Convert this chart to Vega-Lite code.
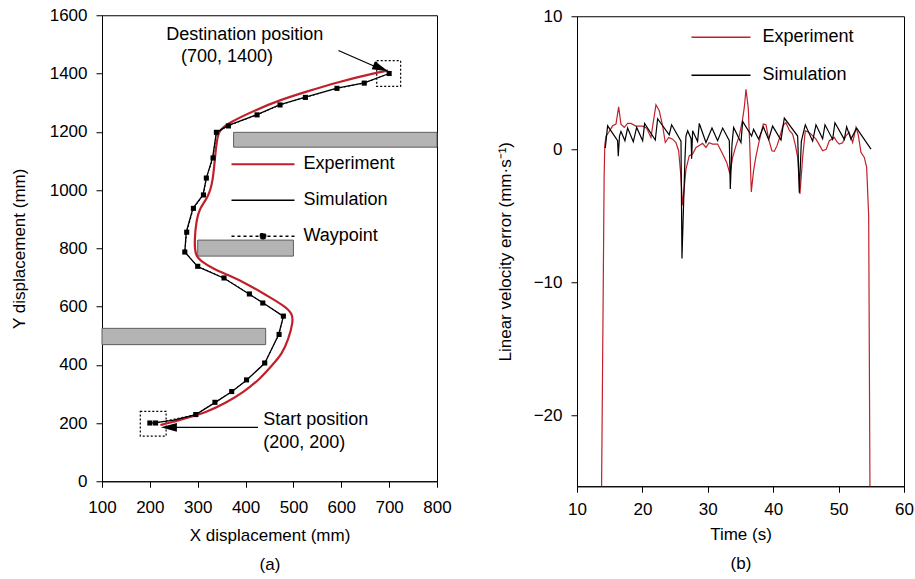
{
  "$schema": "https://vega.github.io/schema/vega-lite/v6.json",
  "background": "white",
  "padding": {"left": 9, "top": 5, "right": 0, "bottom": 0},
  "config": {
    "font": "Liberation Sans",
    "view": {"stroke": "black", "strokeWidth": 1},
    "axis": {"grid": false, "domainColor": "black", "tickColor": "black", "tickSize": 6, "labelFontSize": 17, "labelColor": "black", "titleFontSize": 17, "titleFontWeight": "normal", "titleColor": "black", "labelPadding": 6, "titlePadding": 10, "labelFlush": false, "format": "d"},
    "concat": {"spacing": 43}
  },
  "datasets": {
    "obs": [
      {"x1": 375, "x2": 800, "y1": 1147, "y2": 1198},
      {"x1": 300, "x2": 500, "y1": 773, "y2": 828},
      {"x1": 100, "x2": 442, "y1": 469, "y2": 525}
    ],
    "box": [
      {"x1": 180, "x2": 234, "y1": 155, "y2": 240},
      {"x1": 674, "x2": 724, "y1": 1356, "y2": 1444}
    ],
    "wp": [
      {"x": 200, "y": 200}, {"x": 212, "y": 200}, {"x": 296, "y": 229}, {"x": 336, "y": 271}, {"x": 371, "y": 308},
      {"x": 402, "y": 348}, {"x": 440, "y": 406}, {"x": 470, "y": 504}, {"x": 479, "y": 567}, {"x": 436, "y": 612},
      {"x": 408, "y": 643}, {"x": 355, "y": 698}, {"x": 300, "y": 738}, {"x": 273, "y": 787}, {"x": 277, "y": 855},
      {"x": 291, "y": 937}, {"x": 312, "y": 983}, {"x": 318, "y": 1041}, {"x": 332, "y": 1110}, {"x": 339, "y": 1198},
      {"x": 364, "y": 1220}, {"x": 424, "y": 1258}, {"x": 472, "y": 1292}, {"x": 525, "y": 1318}, {"x": 591, "y": 1349},
      {"x": 648, "y": 1367}, {"x": 700, "y": 1400}
    ],
    "sim": [
      {"x": 200, "y": 200}, {"x": 213, "y": 201}, {"x": 250, "y": 210}, {"x": 296, "y": 229}, {"x": 336, "y": 270},
      {"x": 371, "y": 307}, {"x": 402, "y": 347}, {"x": 440, "y": 405}, {"x": 469, "y": 503}, {"x": 479, "y": 566},
      {"x": 437, "y": 612}, {"x": 408, "y": 642}, {"x": 355, "y": 697}, {"x": 300, "y": 737}, {"x": 273, "y": 787},
      {"x": 276, "y": 855}, {"x": 290, "y": 937}, {"x": 311, "y": 983}, {"x": 318, "y": 1041}, {"x": 331, "y": 1110},
      {"x": 339, "y": 1198}, {"x": 364, "y": 1222}, {"x": 424, "y": 1259}, {"x": 472, "y": 1293}, {"x": 525, "y": 1319},
      {"x": 591, "y": 1350}, {"x": 648, "y": 1368}, {"x": 700, "y": 1400}
    ],
    "exp": [
      {"x": 222, "y": 193}, {"x": 245, "y": 202}, {"x": 270, "y": 214}, {"x": 319, "y": 237}, {"x": 361, "y": 271},
      {"x": 396, "y": 306}, {"x": 430, "y": 351}, {"x": 458, "y": 403}, {"x": 476, "y": 437}, {"x": 490, "y": 489},
      {"x": 499, "y": 546}, {"x": 498, "y": 575}, {"x": 483, "y": 600}, {"x": 444, "y": 638}, {"x": 403, "y": 678},
      {"x": 361, "y": 710}, {"x": 333, "y": 729}, {"x": 305, "y": 758}, {"x": 295, "y": 776}, {"x": 293, "y": 826},
      {"x": 297, "y": 895}, {"x": 305, "y": 941}, {"x": 322, "y": 975}, {"x": 332, "y": 1032}, {"x": 336, "y": 1112},
      {"x": 340, "y": 1170}, {"x": 344, "y": 1202}, {"x": 361, "y": 1228}, {"x": 424, "y": 1277}, {"x": 472, "y": 1309},
      {"x": 528, "y": 1338}, {"x": 591, "y": 1370}, {"x": 674, "y": 1403}, {"x": 698, "y": 1410}
    ],
    "err": [
      {"s": "Experiment", "t": 13.75, "v": -26}, {"s": "Experiment", "t": 14.15, "v": -2}, {"s": "Experiment", "t": 14.25, "v": 0.3},
      {"s": "Experiment", "t": 14.43, "v": 1.0}, {"s": "Experiment", "t": 14.84, "v": 1.27}, {"s": "Experiment", "t": 15.45, "v": 1.77},
      {"s": "Experiment", "t": 15.96, "v": 1.9}, {"s": "Experiment", "t": 16.37, "v": 3.2}, {"s": "Experiment", "t": 16.72, "v": 1.9},
      {"s": "Experiment", "t": 17.23, "v": 1.65}, {"s": "Experiment", "t": 17.74, "v": 1.95}, {"s": "Experiment", "t": 18.25, "v": 1.95},
      {"s": "Experiment", "t": 19.02, "v": 1.75}, {"s": "Experiment", "t": 20.04, "v": 1.75}, {"s": "Experiment", "t": 20.65, "v": 1.6},
      {"s": "Experiment", "t": 21.31, "v": 0.9}, {"s": "Experiment", "t": 22.07, "v": 3.35}, {"s": "Experiment", "t": 22.58, "v": 2.9},
      {"s": "Experiment", "t": 23.09, "v": 1.77}, {"s": "Experiment", "t": 23.5, "v": 0.52}, {"s": "Experiment", "t": 24.01, "v": 0.9},
      {"s": "Experiment", "t": 24.62, "v": 0.77}, {"s": "Experiment", "t": 25.13, "v": 0.52}, {"s": "Experiment", "t": 25.54, "v": -0.1},
      {"s": "Experiment", "t": 25.85, "v": -1.8}, {"s": "Experiment", "t": 26.15, "v": -4.2}, {"s": "Experiment", "t": 26.66, "v": -1.5},
      {"s": "Experiment", "t": 27.17, "v": -0.47}, {"s": "Experiment", "t": 27.68, "v": -0.35}, {"s": "Experiment", "t": 28.2, "v": 0.15},
      {"s": "Experiment", "t": 28.7, "v": 0.3}, {"s": "Experiment", "t": 29.2, "v": 0.45}, {"s": "Experiment", "t": 29.72, "v": 0.15},
      {"s": "Experiment", "t": 30.2, "v": 0.5}, {"s": "Experiment", "t": 30.74, "v": 0.4}, {"s": "Experiment", "t": 31.5, "v": 0.4},
      {"s": "Experiment", "t": 32.27, "v": -0.35}, {"s": "Experiment", "t": 32.9, "v": -1.0}, {"s": "Experiment", "t": 33.39, "v": -1.85},
      {"s": "Experiment", "t": 33.8, "v": -0.6}, {"s": "Experiment", "t": 34.31, "v": 0.28}, {"s": "Experiment", "t": 34.82, "v": 1.03},
      {"s": "Experiment", "t": 35.3, "v": 2.2}, {"s": "Experiment", "t": 35.58, "v": 3.15}, {"s": "Experiment", "t": 35.84, "v": 4.52},
      {"s": "Experiment", "t": 36.19, "v": 3.1}, {"s": "Experiment", "t": 36.45, "v": -0.1}, {"s": "Experiment", "t": 36.65, "v": -3.2},
      {"s": "Experiment", "t": 37.0, "v": -1.6}, {"s": "Experiment", "t": 37.37, "v": -0.5}, {"s": "Experiment", "t": 37.87, "v": 0.65},
      {"s": "Experiment", "t": 38.49, "v": 1.9}, {"s": "Experiment", "t": 38.9, "v": 1.85}, {"s": "Experiment", "t": 39.3, "v": 0.77},
      {"s": "Experiment", "t": 39.8, "v": -0.1}, {"s": "Experiment", "t": 40.17, "v": -0.15}, {"s": "Experiment", "t": 40.6, "v": 0.3},
      {"s": "Experiment", "t": 40.93, "v": 0.8}, {"s": "Experiment", "t": 41.5, "v": 1.8}, {"s": "Experiment", "t": 41.95, "v": 2.0},
      {"s": "Experiment", "t": 42.5, "v": 1.4}, {"s": "Experiment", "t": 42.97, "v": 1.15}, {"s": "Experiment", "t": 43.4, "v": 0.3},
      {"s": "Experiment", "t": 43.74, "v": -0.6}, {"s": "Experiment", "t": 44.09, "v": -3.35}, {"s": "Experiment", "t": 44.5, "v": -0.6},
      {"s": "Experiment", "t": 44.91, "v": 1.4}, {"s": "Experiment", "t": 45.4, "v": 1.3}, {"s": "Experiment", "t": 45.78, "v": 1.15},
      {"s": "Experiment", "t": 46.54, "v": 0.77}, {"s": "Experiment", "t": 47.1, "v": 0.3}, {"s": "Experiment", "t": 47.56, "v": -0.1},
      {"s": "Experiment", "t": 48.1, "v": 0.0}, {"s": "Experiment", "t": 48.58, "v": 0.65}, {"s": "Experiment", "t": 49.34, "v": 0.9},
      {"s": "Experiment", "t": 49.7, "v": 0.6}, {"s": "Experiment", "t": 50.1, "v": 0.4}, {"s": "Experiment", "t": 50.6, "v": 0.5},
      {"s": "Experiment", "t": 51.13, "v": 1.02}, {"s": "Experiment", "t": 51.6, "v": 1.3}, {"s": "Experiment", "t": 52.15, "v": 0.52},
      {"s": "Experiment", "t": 52.66, "v": 1.65}, {"s": "Experiment", "t": 53.0, "v": 1.1}, {"s": "Experiment", "t": 53.42, "v": -0.22},
      {"s": "Experiment", "t": 53.93, "v": -0.6}, {"s": "Experiment", "t": 54.29, "v": -1.35}, {"s": "Experiment", "t": 54.6, "v": -5},
      {"s": "Experiment", "t": 54.8, "v": -26},
      {"s": "Simulation", "t": 14.33, "v": 0.1}, {"s": "Simulation", "t": 14.68, "v": 1.77}, {"s": "Simulation", "t": 16.21, "v": 0.65},
      {"s": "Simulation", "t": 16.31, "v": -0.52}, {"s": "Simulation", "t": 16.5, "v": 1.0}, {"s": "Simulation", "t": 16.72, "v": 1.35},
      {"s": "Simulation", "t": 17.33, "v": 0.65}, {"s": "Simulation", "t": 17.74, "v": 1.6}, {"s": "Simulation", "t": 18.61, "v": 0.57},
      {"s": "Simulation", "t": 19.12, "v": 1.65}, {"s": "Simulation", "t": 20.04, "v": 0.65}, {"s": "Simulation", "t": 20.34, "v": 1.95},
      {"s": "Simulation", "t": 21.97, "v": 0.7}, {"s": "Simulation", "t": 22.33, "v": 2.3}, {"s": "Simulation", "t": 24.1, "v": 1.1},
      {"s": "Simulation", "t": 24.47, "v": 1.85}, {"s": "Simulation", "t": 25.9, "v": 0.62}, {"s": "Simulation", "t": 26.05, "v": -8.2},
      {"s": "Simulation", "t": 26.5, "v": -0.8}, {"s": "Simulation", "t": 26.66, "v": 1.0}, {"s": "Simulation", "t": 26.92, "v": 1.4},
      {"s": "Simulation", "t": 27.45, "v": 0.8}, {"s": "Simulation", "t": 27.53, "v": -0.7}, {"s": "Simulation", "t": 27.68, "v": 1.4},
      {"s": "Simulation", "t": 28.44, "v": 0.6}, {"s": "Simulation", "t": 28.7, "v": 1.95}, {"s": "Simulation", "t": 29.72, "v": 0.52},
      {"s": "Simulation", "t": 30.64, "v": 1.6}, {"s": "Simulation", "t": 31.5, "v": 0.65}, {"s": "Simulation", "t": 32.27, "v": 1.6},
      {"s": "Simulation", "t": 33.29, "v": 0.65}, {"s": "Simulation", "t": 33.44, "v": -2.97}, {"s": "Simulation", "t": 33.7, "v": 0.4},
      {"s": "Simulation", "t": 33.95, "v": 1.65}, {"s": "Simulation", "t": 35.07, "v": 0.52}, {"s": "Simulation", "t": 35.33, "v": 2.1},
      {"s": "Simulation", "t": 36.7, "v": 1.0}, {"s": "Simulation", "t": 37.0, "v": 1.5}, {"s": "Simulation", "t": 37.77, "v": 0.77},
      {"s": "Simulation", "t": 38.49, "v": 1.7}, {"s": "Simulation", "t": 39.3, "v": 0.75}, {"s": "Simulation", "t": 39.91, "v": 1.75},
      {"s": "Simulation", "t": 41.19, "v": 0.7}, {"s": "Simulation", "t": 41.7, "v": 2.35}, {"s": "Simulation", "t": 43.74, "v": 1.0},
      {"s": "Simulation", "t": 43.99, "v": -3.25}, {"s": "Simulation", "t": 44.3, "v": 0.6}, {"s": "Simulation", "t": 44.91, "v": 1.85},
      {"s": "Simulation", "t": 46.03, "v": 0.62}, {"s": "Simulation", "t": 46.54, "v": 1.85}, {"s": "Simulation", "t": 47.56, "v": 0.8},
      {"s": "Simulation", "t": 47.92, "v": 1.85}, {"s": "Simulation", "t": 49.09, "v": 0.75}, {"s": "Simulation", "t": 49.44, "v": 2.0},
      {"s": "Simulation", "t": 50.87, "v": 0.75}, {"s": "Simulation", "t": 51.23, "v": 1.7}, {"s": "Simulation", "t": 51.89, "v": 0.77},
      {"s": "Simulation", "t": 52.76, "v": 1.6}, {"s": "Simulation", "t": 54.95, "v": 0.02}
    ]
  },
  "center": true,
  "resolve": {"scale": {"stroke": "independent", "x": "independent", "y": "independent"}, "legend": {"stroke": "independent"}},
  "hconcat": [
    {
      "width": 335,
      "height": 466,
      "layer": [
        {
          "data": {"name": "obs"},
          "mark": {"type": "rect", "fill": "#b4b4b4", "stroke": "#5e5e5e", "strokeWidth": 1},
          "encoding": {
            "x": {"field": "x1", "type": "quantitative", "scale": {"domain": [100, 800], "nice": false, "zero": false},
                  "axis": {"title": ["X displacement  (mm)", "(a)"], "titleLineHeight": 29, "values": [100, 200, 300, 400, 500, 600, 700, 800], "labelPadding": 12, "titlePadding": 12}},
            "x2": {"field": "x2"},
            "y": {"field": "y1", "type": "quantitative", "scale": {"domain": [0, 1600], "nice": false},
                  "axis": {"title": "Y displacement (mm)", "values": [0, 200, 400, 600, 800, 1000, 1200, 1400, 1600], "labelPadding": 9, "titlePadding": 21}},
            "y2": {"field": "y2"}
          }
        },
        {
          "data": {"name": "box"},
          "mark": {"type": "rect", "fill": null, "fillOpacity": 0, "stroke": "black", "strokeWidth": 1.2, "strokeDash": [2, 2]},
          "encoding": {
            "x": {"field": "x1", "type": "quantitative"},
            "x2": {"field": "x2"},
            "y": {"field": "y1", "type": "quantitative"},
            "y2": {"field": "y2"}
          }
        },
        {
          "data": {"name": "exp"},
          "mark": {"type": "line", "strokeWidth": 2.2, "interpolate": "basis"},
          "encoding": {
            "x": {"field": "x", "type": "quantitative"},
            "y": {"field": "y", "type": "quantitative"},
            "order": {"value": null},
            "stroke": {"datum": "Experiment", "type": "nominal",
              "scale": {"domain": ["Experiment", "Simulation", "Waypoint"], "range": ["#c0202a", "black", "black"]},
              "legend": {"orient": "none", "legendX": 152, "legendY": 140, "title": null, "padding": 0,
                "symbolType": "M-3.5,0L3.5,0", "symbolSize": 324, "symbolStrokeWidth": 1.3,
                "labelFontSize": 18, "labelColor": "black", "labelOffset": 31.5, "labelLimit": 300, "rowPadding": 18,
                "encode": {"symbols": {"update": {
                  "shape": {"signal": "datum.value === 'Waypoint' ? 'M-3.5,0L3.5,0M-0.3,-0.3L0.3,-0.3L0.3,0.3L-0.3,0.3Z' : 'M-3.5,0L3.5,0'"},
                  "strokeDash": {"signal": "datum.value === 'Waypoint' ? [3, 3] : [1, 0]"},
                  "fill": {"signal": "datum.value === 'Waypoint' ? 'black' : 'transparent'"},
                  "strokeWidth": {"signal": "datum.value === 'Experiment' ? 2.2 : 1.3"}
                }}}
              }
            }
          }
        },
        {
          "data": {"name": "wp"},
          "mark": {"type": "line", "strokeWidth": 1, "strokeDash": [2, 2]},
          "encoding": {
            "x": {"field": "x", "type": "quantitative"},
            "y": {"field": "y", "type": "quantitative"},
            "order": {"value": null},
            "stroke": {"datum": "Waypoint", "type": "nominal"}
          }
        },
        {
          "data": {"name": "sim"},
          "mark": {"type": "line", "strokeWidth": 1.3},
          "encoding": {
            "x": {"field": "x", "type": "quantitative"},
            "y": {"field": "y", "type": "quantitative"},
            "order": {"value": null},
            "stroke": {"datum": "Simulation", "type": "nominal"}
          }
        },
        {
          "data": {"name": "wp"},
          "mark": {"type": "point", "shape": "square", "filled": true, "color": "black", "size": 26, "opacity": 1},
          "encoding": {
            "x": {"field": "x", "type": "quantitative"},
            "y": {"field": "y", "type": "quantitative"}
          }
        },
        {
          "data": {"values": [{}]},
          "mark": {"type": "rule", "stroke": "black", "strokeWidth": 1.2},
          "encoding": {
            "x": {"datum": 426, "type": "quantitative"},
            "x2": {"datum": 245},
            "y": {"datum": 185, "type": "quantitative"}
          }
        },
        {
          "data": {"values": [{}]},
          "mark": {"type": "rule", "stroke": "black", "strokeWidth": 1.2},
          "encoding": {
            "x": {"datum": 594, "type": "quantitative"},
            "x2": {"datum": 680},
            "y": {"datum": 1479, "type": "quantitative"},
            "y2": {"datum": 1417}
          }
        },
        {
          "data": {"values": [{}]},
          "mark": {"type": "point", "shape": "M0,0L2,-0.55L2,0.55Z", "filled": true, "color": "black", "size": 256, "opacity": 1, "angle": 0},
          "encoding": {
            "x": {"datum": 223, "type": "quantitative"},
            "y": {"datum": 185, "type": "quantitative"}
          }
        },
        {
          "data": {"values": [{}]},
          "mark": {"type": "point", "shape": "M0,0L2,-0.55L2,0.55Z", "filled": true, "color": "black", "size": 256, "opacity": 1, "angle": 201.8},
          "encoding": {
            "x": {"datum": 698, "type": "quantitative"},
            "y": {"datum": 1408, "type": "quantitative"}
          }
        },
        {
          "data": {"values": [{}]},
          "mark": {"type": "text", "fontSize": 18, "align": "left", "baseline": "middle", "color": "black"},
          "encoding": {
            "x": {"datum": 234, "type": "quantitative"},
            "y": {"datum": 1531, "type": "quantitative"},
            "text": {"value": "Destination position"}
          }
        },
        {
          "data": {"values": [{}]},
          "mark": {"type": "text", "fontSize": 18, "align": "left", "baseline": "middle", "color": "black"},
          "encoding": {
            "x": {"datum": 265, "type": "quantitative"},
            "y": {"datum": 1456, "type": "quantitative"},
            "text": {"value": "(700, 1400)"}
          }
        },
        {
          "data": {"values": [{}]},
          "mark": {"type": "text", "fontSize": 18, "align": "left", "baseline": "middle", "color": "black"},
          "encoding": {
            "x": {"datum": 437, "type": "quantitative"},
            "y": {"datum": 209, "type": "quantitative"},
            "text": {"value": "Start position"}
          }
        },
        {
          "data": {"values": [{}]},
          "mark": {"type": "text", "fontSize": 18, "align": "left", "baseline": "middle", "color": "black"},
          "encoding": {
            "x": {"datum": 437, "type": "quantitative"},
            "y": {"datum": 130, "type": "quantitative"},
            "text": {"value": "(200, 200)"}
          }
        }
      ]
    },
    {
      "width": 327,
      "height": 470,
      "data": {"name": "err"},
      "mark": {"type": "line", "strokeWidth": 1.2, "clip": true},
      "encoding": {
        "x": {"field": "t", "type": "quantitative", "scale": {"domain": [10, 60], "nice": false, "zero": false},
              "axis": {"title": ["Time (s)", "(b)"], "titleLineHeight": 29, "values": [10, 20, 30, 40, 50, 60], "labelPadding": 9, "titlePadding": 9}},
        "y": {"field": "v", "type": "quantitative", "scale": {"domain": [-25.3, 10], "nice": false, "zero": false},
              "axis": {"title": "Linear velocity error (mm·s⁻¹)", "values": [-20, -10, 0, 10], "labelPadding": 9, "titlePadding": 19}},
        "stroke": {"field": "s", "type": "nominal",
          "scale": {"domain": ["Experiment", "Simulation"], "range": ["#c0202a", "black"]},
          "legend": {"orient": "none", "legendX": 134, "legendY": 11, "title": null, "padding": 0,
            "symbolType": "M-3.28,0L3.28,0", "symbolSize": 324, "symbolStrokeWidth": 1.3,
            "labelFontSize": 18, "labelColor": "black", "labelOffset": 31.5, "labelLimit": 300, "rowPadding": 19}
        }
      }
    }
  ]
}
